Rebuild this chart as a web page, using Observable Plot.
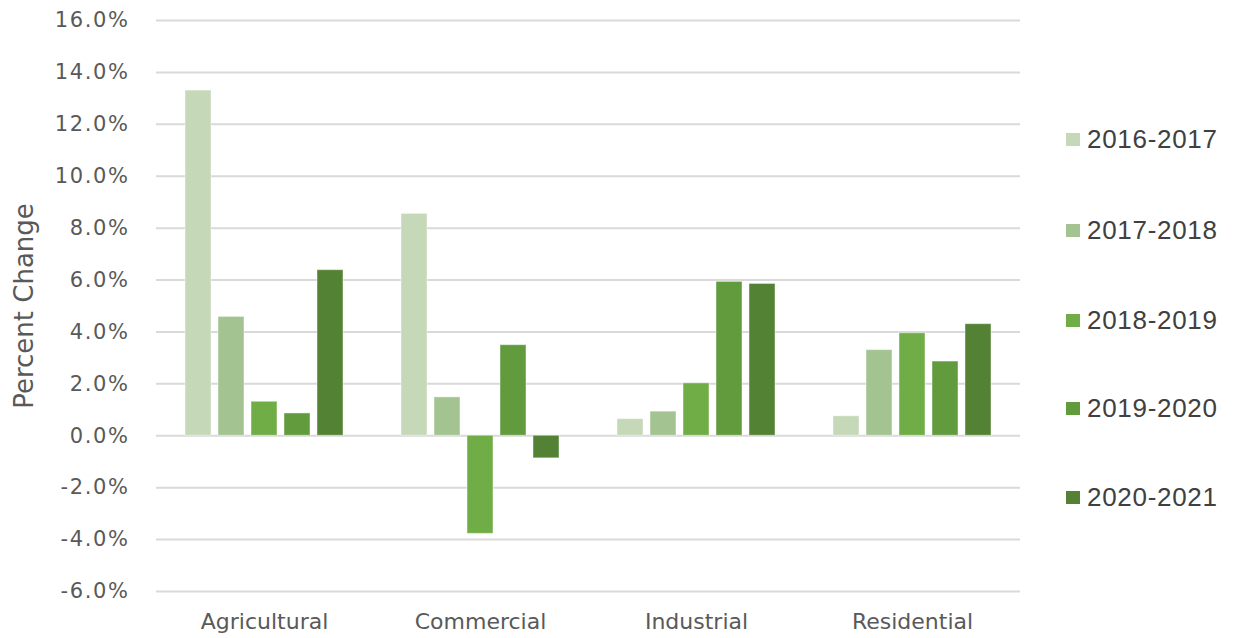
<!DOCTYPE html>
<html>
<head>
<meta charset="utf-8">
<script src="https://cdn.jsdelivr.net/npm/d3@7"></script>
<script src="https://cdn.jsdelivr.net/npm/@observablehq/plot@0.6"></script>
<style>
  html, body { margin: 0; padding: 0; background: #fff; }
  #wrap { position: relative; width: 1234px; height: 638px; overflow: hidden; }
  #legend { position: absolute; left: 1066px; top: 0; font-family: "Liberation Sans", Arial, sans-serif; font-size: 26px; letter-spacing: 0.7px; color: #404040; }
  .item { position: absolute; left: 0; display: flex; align-items: center; white-space: nowrap; height: 30px; }
  .sw { width: 14px; height: 13px; margin-right: 7px; }
  svg [aria-label="y-axis tick label"] text { font-size: 21px; letter-spacing: 1.6px; }
  svg [aria-label="fx-axis tick label"] text { font-size: 22px; }
  svg [aria-label="y-axis label"] text { font-size: 26px; }
</style>
</head>
<body>
<div id="wrap"><div id="chart"></div><div id="legend"></div></div>
<script>
const categories = ["Agricultural", "Commercial", "Industrial", "Residential"];
const seriesNames = ["2016-2017", "2017-2018", "2018-2019", "2019-2020", "2020-2021"];
const v2016_2017 = [13.3, 8.55, 0.64, 0.75];
const v2017_2018 = [4.58, 1.48, 0.93, 3.3];
const v2018_2019 = [1.31, -3.78, 2.02, 3.95];
const v2019_2020 = [0.86, 3.49, 5.93, 2.86];
const v2020_2021 = [6.38, -0.87, 5.85, 4.3];
const yTicks = [-6, -4, -2, 0, 2, 4, 6, 8, 10, 12, 14, 16];
const colors = ["#c5d8b8", "#a3c490", "#70ad47", "#629a3e", "#548235"];

const seriesValues = [v2016_2017, v2017_2018, v2018_2019, v2019_2020, v2020_2021];
const data = [];
categories.forEach((c, i) => {
  seriesNames.forEach((s, j) => {
    data.push({category: c, series: s, value: seriesValues[j][i]});
  });
});

const chart = Plot.plot({
  width: 1234,
  height: 638,
  marginLeft: 155,
  marginRight: 214,
  marginTop: 20,
  marginBottom: 47,
  style: {fontFamily: "'DejaVu Sans', sans-serif", fontSize: "21px", color: "#595959", background: "#fff"},
  fx: {domain: categories, padding: 0, axis: "bottom", label: null, tickSize: 0, tickPadding: 22},
  x: {domain: seriesNames, padding: 0.2, insetLeft: 21.5, insetRight: 21.5, axis: null},
  y: {
    domain: [-6, 16],
    ticks: yTicks,
    tickFormat: d => d.toFixed(1) + "%",
    tickSize: 0,
    tickPadding: 27,
    label: "Percent Change",
    labelAnchor: "center",
    labelOffset: 142,
    labelArrow: "none"
  },
  color: {domain: seriesNames, range: colors},
  marks: [
    Plot.ruleY(yTicks, {stroke: "#d9d9d9", strokeWidth: 2}),
    Plot.barY(data, {fx: "category", x: "series", y: "value", fill: "series", stroke: "#ffffff", strokeOpacity: 0.45, strokeWidth: 1})
  ]
});
document.getElementById("chart").appendChild(chart);

const legend = document.getElementById("legend");
const rowCenters = [139, 230, 320, 408, 497];
seriesNames.forEach((s, i) => {
  const item = document.createElement("div");
  item.className = "item";
  item.style.top = (rowCenters[i] - 15) + "px";
  const sw = document.createElement("div");
  sw.className = "sw";
  sw.style.background = colors[i];
  const t = document.createElement("span");
  t.textContent = s;
  item.appendChild(sw);
  item.appendChild(t);
  legend.appendChild(item);
});
</script>
</body>
</html>
